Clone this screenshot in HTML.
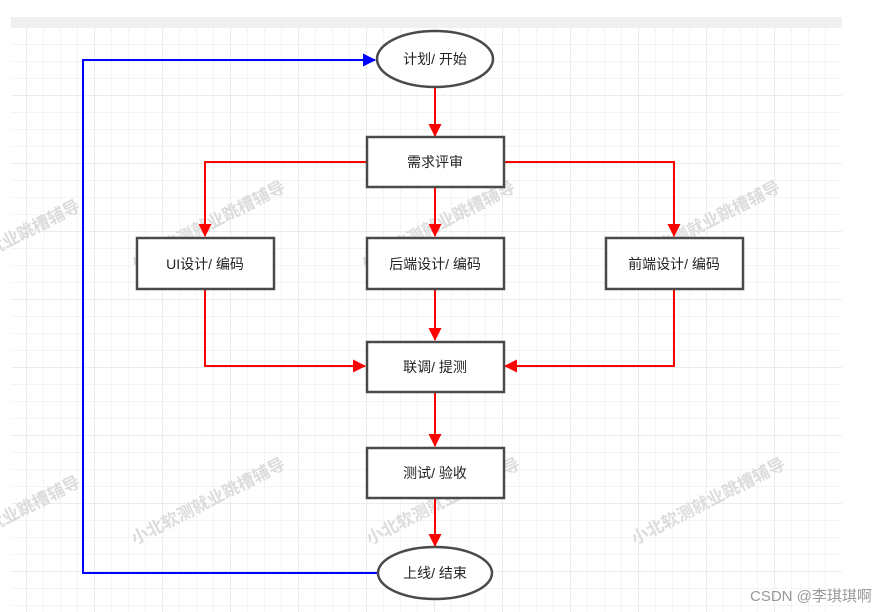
<!DOCTYPE html>
<html><head><meta charset="utf-8"><style>
html,body{margin:0;padding:0;background:#fff;}
body{width:881px;height:612px;overflow:hidden;position:relative;font-family:"Liberation Sans","Noto Sans CJK SC",sans-serif;}
</style></head><body>
<svg width="881" height="612" viewBox="0 0 881 612" xmlns="http://www.w3.org/2000/svg" style="position:absolute;left:0;top:0">
<defs>
<pattern id="minor" x="10" y="11" width="17" height="17" patternUnits="userSpaceOnUse">
<path d="M17 0V17M0 17H17" stroke="#e8e8e8" stroke-width="1" fill="none"/>
</pattern>
<pattern id="major" x="-41" y="-40" width="68" height="68" patternUnits="userSpaceOnUse">
<path d="M68 0V68M0 68H68" stroke="#d9d9d9" stroke-width="1" fill="none"/>
</pattern>
<marker id="ar" markerWidth="13" markerHeight="13" refX="12" refY="6.5" orient="auto" markerUnits="userSpaceOnUse" viewBox="0 0 13 13">
<path d="M0 0L13 6.5L0 13z" fill="#ff0000"/>
</marker>
<marker id="ab" markerWidth="13" markerHeight="13" refX="12" refY="6.5" orient="auto" markerUnits="userSpaceOnUse" viewBox="0 0 13 13">
<path d="M0 0L13 6.5L0 13z" fill="#0000ff"/>
</marker>
</defs>
<rect x="11" y="17" width="831" height="11" fill="#f0f0f0"/>
<rect x="11" y="28" width="831" height="584" fill="url(#minor)"/>
<rect x="11" y="28" width="831" height="584" fill="url(#major)"/>

<g font-size="17" font-weight="bold" fill="#dcdcdc" font-family="'Noto Sans CJK SC',sans-serif">
<text transform="translate(135,268) rotate(-27)">小北软测就业跳槽辅导</text>
<text transform="translate(365,268) rotate(-27)">小北软测就业跳槽辅导</text>
<text transform="translate(630,268) rotate(-27)">小北软测就业跳槽辅导</text>
<text transform="translate(135,545) rotate(-27)">小北软测就业跳槽辅导</text>
<text transform="translate(370,545) rotate(-27)">小北软测就业跳槽辅导</text>
<text transform="translate(635,545) rotate(-27)">小北软测就业跳槽辅导</text>
<text transform="translate(-70,287) rotate(-27)">小北软测就业跳槽辅导</text>
<text transform="translate(-70,563) rotate(-27)">小北软测就业跳槽辅导</text>
</g>

<g fill="none" stroke-width="2">
<path d="M377 573H83V60H375" stroke="#0000ff" marker-end="url(#ab)"/>
<g stroke="#ff0000" marker-end="url(#ar)">
<path d="M435 87V136"/>
<path d="M366 162H205V236"/>
<path d="M504 162H674V236"/>
<path d="M435 187V236"/>
<path d="M205 290V366H365"/>
<path d="M674 290V366H505"/>
<path d="M435 290V340"/>
<path d="M435 393V446"/>
<path d="M435 499V546"/>
</g>
</g>

<g fill="#fff" stroke="#4a4a4a" stroke-width="2.5">
<ellipse cx="435" cy="59" rx="58" ry="28"/>
<rect x="367" y="137" width="137" height="50"/>
<rect x="137" y="238" width="137" height="51"/>
<rect x="367" y="238" width="137" height="51"/>
<rect x="606" y="238" width="137" height="51"/>
<rect x="367" y="342" width="137" height="50"/>
<rect x="367" y="448" width="137" height="50"/>
<ellipse cx="435" cy="573" rx="57" ry="26"/>
</g>

<g font-size="14" fill="#222" text-anchor="middle">
<text x="435" y="64">计划/ 开始</text>
<text x="435" y="167">需求评审</text>
<text x="205" y="269">UI设计/ 编码</text>
<text x="435" y="269">后端设计/ 编码</text>
<text x="674" y="269">前端设计/ 编码</text>
<text x="435" y="372">联调/ 提测</text>
<text x="435" y="478">测试/ 验收</text>
<text x="435" y="578">上线/ 结束</text>
</g>
<text x="750" y="601" font-size="15" fill="#999" text-anchor="start">CSDN @李琪琪啊</text>
</svg>
</body></html>
